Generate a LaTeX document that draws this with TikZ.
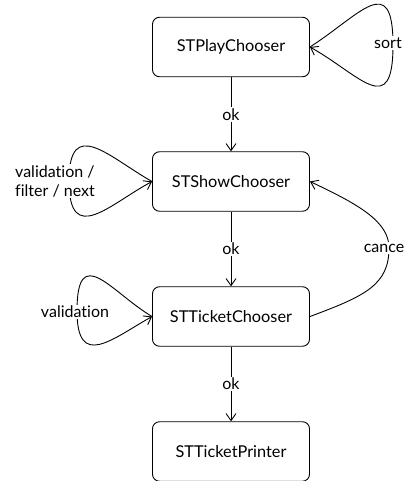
\documentclass[tikz,border=0pt]{standalone}
\usepackage{fontspec}
\setmainfont{Lato}[Ligatures=NoCommon]
\usetikzlibrary{arrows.meta}
\begin{document}
\begin{tikzpicture}[x=1pt,y=-1pt,
  state/.style={draw,rounded corners=7pt,line width=0.9pt,minimum width=157pt,minimum height=59.5pt,inner sep=0pt,font=\fontsize{16.3}{19}\selectfont},
  lbl/.style={fill=white,inner sep=1.5pt,font=\fontsize{16}{19}\selectfont},
  edge/.style={line width=0.9pt,-{Straight Barb[length=7pt,width=10pt]}}]
\useasboundingbox (0,0) rectangle (406,481);
\node[state] (play) at (231,47) {STPlayChooser};
\node[state] (show) at (231,181.5) {STShowChooser};
\node[state] (ticket) at (231,316.5) {STTicketChooser};
\node[state] (printer) at (231,451.5) {STTicketPrinter};
% straight transitions
\draw[edge] (play) -- node[lbl] (ok1) {ok} (show);
\draw[edge] (ticket) -- node[lbl] (ok3) {ok} (printer);
\draw[edge] (show) -- node[lbl] (ok2) {ok} (ticket);
% self loops
\draw[edge] (play.east) .. controls (360,15) and (393,-30) .. (393,45)
  .. controls (393,120) and (360,75) .. (play.east);
\draw[edge] (show.west) .. controls (110,158) and (69,115) .. (69,181)
  .. controls (69,247) and (110,204) .. (show.west);
\draw[edge] (ticket.west) .. controls (112,293) and (77,241) .. (77,311)
  .. controls (77,370) and (112,339) .. (ticket.west);
% cancel
\draw[edge] (ticket.east) .. controls (365,296) and (389,285) .. (389,248)
  .. controls (389,222) and (360,205) .. (show.east);
% labels
\node[lbl] (sortl) at (388,43) {sort};
\node[lbl,align=left] (valfil) at (55,181) {validation /\\filter / next};
\node[lbl] (val) at (75,312) {validation};
\node[lbl] (cancel) at (384,248) {cance};
\end{tikzpicture}
\end{document}
